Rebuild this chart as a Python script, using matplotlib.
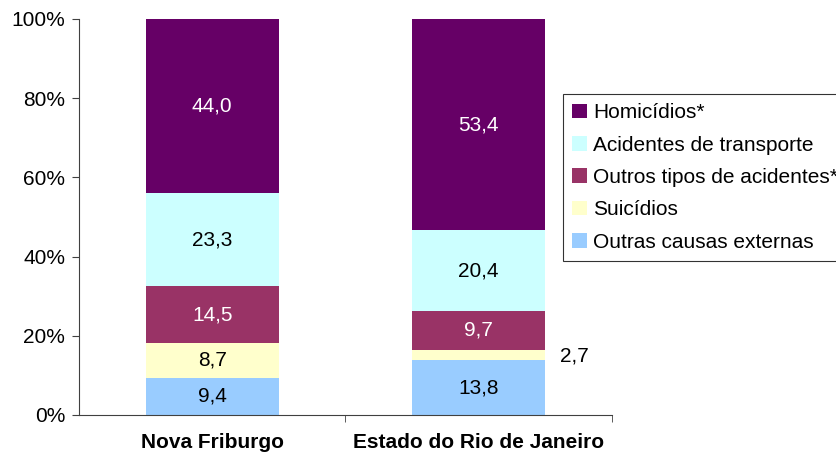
import matplotlib
matplotlib.use("Agg")
import matplotlib.pyplot as plt
import numpy as np

plt.rcParams['font.family'] = ['Liberation Sans', 'DejaVu Sans']

regions = ["Nova Friburgo", "Estado do Rio de Janeiro"]
causes = ["Outras causas externas", "Suicídios", "Outros tipos de acidentes**",
          "Acidentes de transporte", "Homicídios*"]
values = {
    "Outras causas externas": [9.4, 13.8],
    "Suicídios": [8.7, 2.7],
    "Outros tipos de acidentes**": [14.5, 9.7],
    "Acidentes de transporte": [23.3, 20.4],
    "Homicídios*": [44.0, 53.4],
}
colors = {
    "Outras causas externas": "#99ccff",
    "Suicídios": "#ffffcc",
    "Outros tipos de acidentes**": "#993366",
    "Acidentes de transporte": "#ccffff",
    "Homicídios*": "#660066",
}
text_colors = {
    "Outras causas externas": "black",
    "Suicídios": "black",
    "Outros tipos de acidentes**": "white",
    "Acidentes de transporte": "black",
    "Homicídios*": "white",
}

fig = plt.figure(figsize=(8.37, 4.59), dpi=100)
ax = fig.add_axes([79/837, 1 - 415/459, (612 - 79)/837, (415 - 19)/459])

x = np.arange(len(regions))
totals = np.sum([values[c] for c in causes], axis=0)
bottom = np.zeros(len(regions))
handles = {}
for c in causes:
    pct = np.array(values[c]) / totals * 100
    bars = ax.bar(x, pct, 0.5, bottom=bottom, color=colors[c], label=c)
    handles[c] = bars
    for i, v in enumerate(values[c]):
        txt = ("%.1f" % v).replace(".", ",")
        yc = bottom[i] + pct[i] / 2
        if pct[i] < 5:
            # small slice: label sits outside the bar
            ax.text(x[i] + 0.305, yc - 0.3, txt, ha="left", va="center",
                    fontsize=15, color="black")
        else:
            ax.text(x[i], yc, txt, ha="center", va="center",
                    fontsize=15, color=text_colors[c])
    bottom += pct

ax.set_xlim(-0.5, 1.5)
ax.set_ylim(0, 100)
ax.set_yticks([0, 20, 40, 60, 80, 100])
ax.set_yticklabels(["0%", "20%", "40%", "60%", "80%", "100%"], fontsize=15)
ax.set_xticks(x)
ax.set_xticklabels(regions, fontsize=15, fontweight="bold")
ax.set_xticks([0.5, 1.5], minor=True)
ax.tick_params(axis="x", which="major", length=0, pad=13)
ax.tick_params(axis="x", which="minor", length=5, direction="out", color="#404040")
ax.tick_params(axis="y", length=5, direction="out", color="#404040", pad=5)
for s in ["top", "right"]:
    ax.spines[s].set_visible(False)
ax.spines["left"].set_color("#404040")
ax.spines["bottom"].set_color("#404040")

# legend runs off the right edge, as in the original
order = causes[::-1]
leg = fig.legend([handles[c] for c in order], order, loc="upper left",
                 bbox_to_anchor=(563/837, 1 - 94/459), fontsize=15,
                 frameon=True, fancybox=False, edgecolor="black",
                 handlelength=0.7, handleheight=0.7, handletextpad=0.3,
                 labelspacing=0.64, borderpad=0.45, borderaxespad=0)
leg.get_frame().set_linewidth(0.8)

fig.savefig("out.png", dpi=100)
